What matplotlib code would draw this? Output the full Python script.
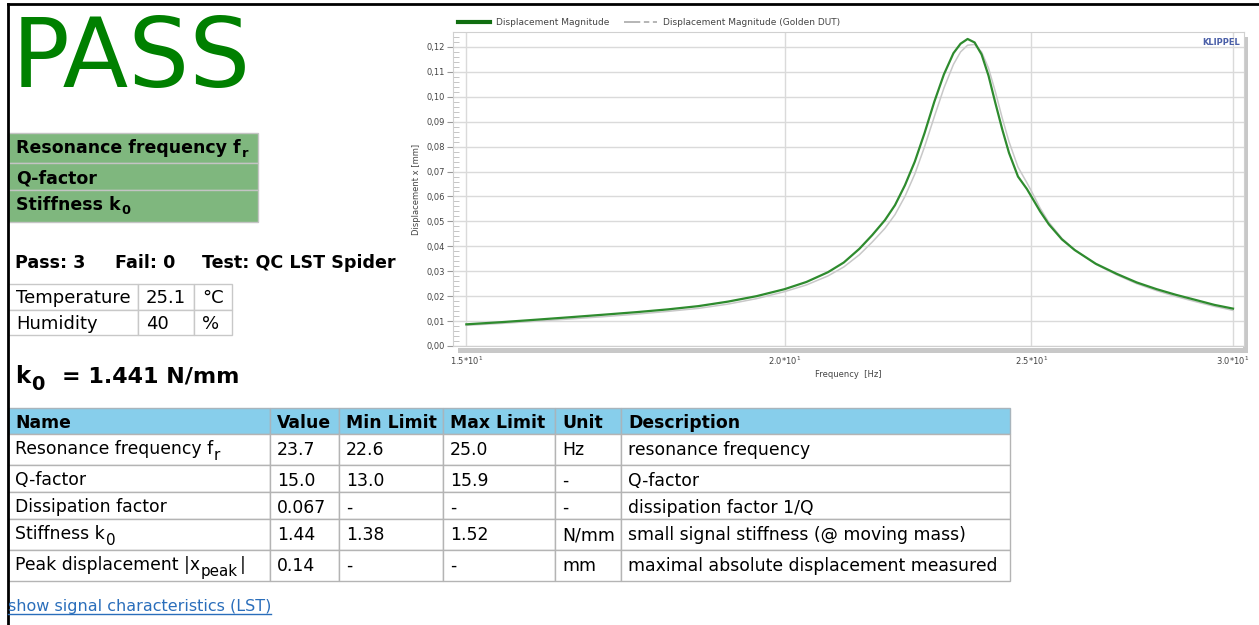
import matplotlib
matplotlib.use("Agg")
import matplotlib.pyplot as plt
from matplotlib.lines import Line2D
from matplotlib.patches import Rectangle
import matplotlib.ticker as mticker

plt.rcParams["font.family"] = ["DejaVu Sans"]
plt.rcParams["mathtext.fontset"] = "dejavusans"

W, H = 1259, 625

# curve data
freq = [15.0, 15.5, 16.0, 16.5, 17.0, 17.5, 18.0, 18.5, 19.0, 19.5, 20.0, 20.4, 20.8,
        21.1, 21.4, 21.65, 21.9, 22.1, 22.3, 22.5, 22.7, 22.9, 23.1, 23.3, 23.45, 23.6,
        23.75, 23.9, 24.05, 24.2, 24.35, 24.5, 24.7, 24.9, 25.0, 25.2, 25.4, 25.7, 26.0,
        26.5, 27.0, 27.5, 28.0, 28.5, 29.0, 29.5, 30.0]
disp = [0.0087, 0.0096, 0.0106, 0.0116, 0.0126, 0.0136, 0.0147, 0.0160, 0.0178, 0.0200,
        0.0228, 0.0257, 0.0296, 0.0335, 0.0390, 0.0445, 0.0505, 0.0565, 0.0645, 0.0740,
        0.0855, 0.0980, 0.1090, 0.1175, 0.1213, 0.1232, 0.1218, 0.1170, 0.1085, 0.0975,
        0.0870, 0.0775, 0.0680, 0.0630, 0.0600, 0.0540, 0.0488, 0.0428, 0.0385, 0.0330,
        0.0290, 0.0255, 0.0228, 0.0205, 0.0185, 0.0165, 0.0150]
disp_golden = [0.0083, 0.0091, 0.0100, 0.0109, 0.0118, 0.0128, 0.0139, 0.0151, 0.0168, 0.0190,
               0.0218, 0.0245, 0.0281, 0.0317, 0.0366, 0.0417, 0.0472, 0.0527, 0.0600, 0.0690,
               0.0800, 0.0920, 0.1035, 0.1130, 0.1180, 0.1207, 0.1210, 0.1180, 0.1115, 0.1020,
               0.0915, 0.0820, 0.0718, 0.0655, 0.0622, 0.0553, 0.0496, 0.0432, 0.0386, 0.0328,
               0.0286, 0.0250, 0.0222, 0.0198, 0.0178, 0.0159, 0.0143]

x_ticks = [15, 20, 25, 30]
x_tick_labels = [r"1.5*10$^\mathregular{1}$", r"2.0*10$^\mathregular{1}$",
                 r"2.5*10$^\mathregular{1}$", r"3.0*10$^\mathregular{1}$"]

# (text, subscript, tail)
summary_rows = [("Resonance frequency f", "r", ""), ("Q-factor", "", ""), ("Stiffness k", "0", "")]
env_rows = [["Temperature", "25.1", "°C"], ["Humidity", "40", "%"]]

header = ["Name", "Value", "Min Limit", "Max Limit", "Unit", "Description"]
names = [("Resonance frequency f", "r", ""), ("Q-factor", "", ""), ("Dissipation factor", "", ""),
         ("Stiffness k", "0", ""), ("Peak displacement |x", "peak", "|")]
values = ["23.7", "15.0", "0.067", "1.44", "0.14"]
min_limits = ["22.6", "13.0", "-", "1.38", "-"]
max_limits = ["25.0", "15.9", "-", "1.52", "-"]
units = ["Hz", "-", "-", "N/mm", "mm"]
descriptions = ["resonance frequency", "Q-factor", "dissipation factor 1/Q",
                "small signal stiffness (@ moving mass)",
                "maximal absolute displacement measured"]

fig = plt.figure(figsize=(W / 100, H / 100), dpi=100)
bg = fig.add_axes([0, 0, 1, 1])
bg.set_xlim(0, W)
bg.set_ylim(H, 0)
bg.axis("off")
renderer = fig.canvas.get_renderer()


def right_edge(t):
    bb = t.get_window_extent(renderer=renderer).transformed(bg.transData.inverted())
    return bb.x1


def sub_text(x, y, parts, size, weight="normal", scale=0.8, drop=5, color="black"):
    base, sub, tail = parts
    t = bg.text(x, y, base, fontsize=size, fontweight=weight, va="baseline", color=color)
    if not sub:
        return t
    x1 = right_edge(t) + 1
    s = bg.text(x1, y + drop, sub, fontsize=size * scale, fontweight=weight,
                va="baseline", color=color)
    if tail:
        bg.text(right_edge(s) + 2, y, tail, fontsize=size, fontweight=weight,
                va="baseline", color=color)
    return t


# page frame
bg.plot([8, 8], [4, H], color="black", lw=2)
bg.plot([8, W], [4, 4], color="black", lw=2)

bg.text(12, 87, "PASS", color="#008000", fontsize=69, va="baseline", ha="left")

# green summary box
green_y = [133, 163, 190, 222]
for i, parts in enumerate(summary_rows):
    y0, y1 = green_y[i], green_y[i + 1]
    bg.add_patch(Rectangle((8, y0), 250, y1 - y0, facecolor="#7fb77e",
                           edgecolor="#c4c4c4", lw=1))
    sub_text(16, y0 + 20, parts, 12.5, weight="bold", scale=0.75, drop=4)

bg.text(15, 268, "Pass: 3", fontsize=12.6, fontweight="bold", va="baseline")
bg.text(115, 268, "Fail: 0", fontsize=12.6, fontweight="bold", va="baseline")
bg.text(202, 268, "Test: QC LST Spider", fontsize=12.6, fontweight="bold", va="baseline")

# environment table
env_x = [8, 138, 194, 232]
env_y = [284, 310, 335]
for r, row in enumerate(env_rows):
    for c, val in enumerate(row):
        bg.add_patch(Rectangle((env_x[c], env_y[r]), env_x[c + 1] - env_x[c],
                               env_y[r + 1] - env_y[r], facecolor="white",
                               edgecolor="#c8c8c8", lw=1))
        bg.text(env_x[c] + 8, env_y[r] + 19, val, fontsize=13, va="baseline")

sub_text(15, 383, ("k", "0", ""), 16.5, weight="bold", scale=0.85, drop=7)
bg.text(62, 383, "= 1.441 N/mm", fontsize=16, fontweight="bold", va="baseline")

# results table
col_x = [8, 270, 339, 443, 555, 621, 1010]
row_y = [408, 434, 465, 492, 519, 550, 581]
columns = [values, min_limits, max_limits, units, descriptions]
for c, title in enumerate(header):
    bg.add_patch(Rectangle((col_x[c], row_y[0]), col_x[c + 1] - col_x[c],
                           row_y[1] - row_y[0], facecolor="#87ceeb",
                           edgecolor="#a8b4bc", lw=1))
    bg.text(col_x[c] + 7, row_y[0] + 20, title, fontsize=12.4, fontweight="bold", va="baseline")
for r in range(len(names)):
    y0, y1 = row_y[r + 1], row_y[r + 2]
    for c in range(len(header)):
        bg.add_patch(Rectangle((col_x[c], y0), col_x[c + 1] - col_x[c], y1 - y0,
                               facecolor="white", edgecolor="#b4b4b4", lw=1))
    sub_text(col_x[0] + 7, y0 + 20, names[r], 12.4, scale=0.88, drop=6)
    for c, col in enumerate(columns, start=1):
        bg.text(col_x[c] + 7, y0 + 21, col[r], fontsize=12.4, va="baseline")

link = bg.text(8, 611, "show signal characteristics (LST)", fontsize=11.5,
               color="#2a6ebb", va="baseline")
bg.plot([8, right_edge(link)], [614, 614], color="#2a6ebb", lw=1)

# chart shadow bars
bg.add_patch(Rectangle((458, 348), 790, 5, facecolor="#c8c8c8", edgecolor="none"))
bg.add_patch(Rectangle((1243, 37), 5, 316, facecolor="#c8c8c8", edgecolor="none"))

# chart
left, right, top, bottom = 453, 1244, 32, 346
ax = fig.add_axes([left / W, 1 - bottom / H, (right - left) / W, (bottom - top) / H])
ax.plot(freq, disp_golden, color="#c8c8c8", lw=1.1)
ax.plot(freq, disp, color="#2e8b2e", lw=1.6)
ax.set_xscale("log")
ax.set_xlim(14.82, 30.3)
ax.set_ylim(0, 0.126)
ax.set_xticks(x_ticks)
ax.set_xticklabels(x_tick_labels)
ax.xaxis.set_minor_locator(mticker.NullLocator())
ax.set_yticks([i / 100 for i in range(13)])
ax.yaxis.set_major_formatter(mticker.FuncFormatter(lambda v, p: f"{v:.2f}".replace(".", ",")))
ax.yaxis.set_minor_locator(mticker.MultipleLocator(0.002))
ax.tick_params(axis="y", which="major", direction="out", length=4, color="#999999",
               labelsize=6, labelcolor="#444444", pad=2)
ax.tick_params(axis="y", which="minor", direction="in", length=4, color="#bbbbbb")
ax.tick_params(axis="x", length=0, labelsize=6, labelcolor="#444444", pad=6)
ax.grid(True, which="major", color="#dadada", lw=1)
for s in ax.spines.values():
    s.set_color("#d0d0d0")
ax.set_xlabel("Frequency  [Hz]", fontsize=6, color="#444444", labelpad=2)
ax.set_ylabel("Displacement x [mm]", fontsize=6, color="#444444", labelpad=4)
ax.text(0.995, 0.965, "KLIPPEL", transform=ax.transAxes, ha="right", va="center",
        fontsize=6, fontweight="bold", color="#4a5fa8")

handles = [Line2D([0], [0], color="#106e10", lw=3, label="Displacement Magnitude"),
           Line2D([0], [0], color="#b0b0b0", lw=1.3, dashes=[9, 2, 3, 2],
                  label="Displacement Magnitude (Golden DUT)")]
ax.legend(handles=handles, loc="lower left", bbox_to_anchor=(0.0, 1.0), ncol=2,
          frameon=False, fontsize=6.5, labelcolor="#444444", handlelength=3.6,
          handletextpad=0.7, columnspacing=1.6, borderaxespad=0.3, borderpad=0.2)

fig.savefig("out.png", dpi=100)
